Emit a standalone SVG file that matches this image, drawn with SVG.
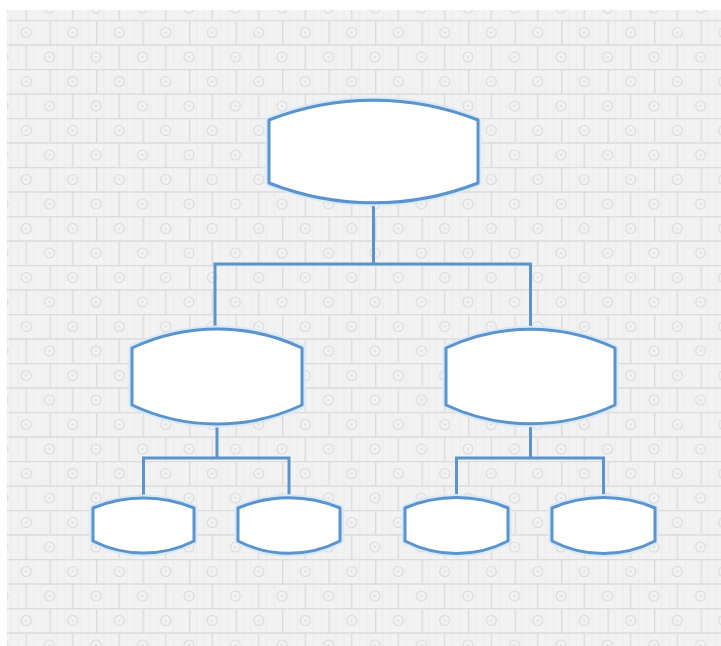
<svg xmlns="http://www.w3.org/2000/svg" width="721" height="646" viewBox="0 0 721 646">
  <defs>
    <pattern id="bg" patternUnits="userSpaceOnUse" x="3" y="20" width="46.5" height="49">
      <rect width="46.5" height="49" fill="#f2f2f2"/>
      <g stroke="#e8e8e8" stroke-width="0.6">
        <line x1="7.75" y1="0" x2="7.75" y2="49"/>
        <line x1="15.5" y1="0" x2="15.5" y2="49"/>
        <line x1="31" y1="0" x2="31" y2="49"/>
        <line x1="38.75" y1="0" x2="38.75" y2="49"/>
      </g>
      <g stroke="#dcdcdc" stroke-width="1.4" fill="none">
        <line x1="0" y1="0.5" x2="46.5" y2="0.5"/>
        <line x1="0" y1="25" x2="46.5" y2="25"/>
        <line x1="0.7" y1="0" x2="0.7" y2="24.5"/>
        <line x1="23.25" y1="24.5" x2="23.25" y2="49"/>
      </g>
      <g stroke="#dadada" stroke-width="1.1" fill="none">
        <circle cx="23.25" cy="12.5" r="5"/>
        <circle cx="0" cy="37" r="5"/>
        <circle cx="46.5" cy="37" r="5"/>
      </g>
      <g fill="#dadada">
        <circle cx="23.25" cy="12.5" r="1"/>
        <circle cx="0" cy="37" r="1"/>
        <circle cx="46.5" cy="37" r="1"/>
      </g>
    </pattern>
    <style>
      .glow { fill: none; stroke: #d8e9f9; stroke-width: 7; stroke-linejoin: round; }
      .node { fill: #ffffff; stroke: #5b93cd; stroke-width: 3; stroke-linejoin: round; }
      .conn { fill: none; stroke: #5b93cd; stroke-width: 3; }
    </style>
  </defs>

  <rect x="0" y="0" width="721" height="646" fill="#ffffff"/>
  <rect x="7" y="10" width="714" height="636" fill="url(#bg)"/>

  <g id="connectors" class="conn">
    <path d="M373.5 202 V264 M215 329 V264 H530.5 V329"/>
    <path d="M217 424 V458 M143.5 498 V458 H289 V498"/>
    <path d="M530.5 424 V458 M456.5 498 V458 H603.5 V498"/>
  </g>

  <g id="node-top">
    <path class="glow" d="M269 120 A285.6 285.6 0 0 1 478 120 L478 183 A285.6 285.6 0 0 1 269 183 Z"/>
    <path class="node" d="M269 120 A285.6 285.6 0 0 1 478 120 L478 183 A285.6 285.6 0 0 1 269 183 Z"/>
  </g>

  <g id="node-mid-left">
    <path class="glow" d="M132 348 A199.6 199.6 0 0 1 302 348 L302 405 A199.6 199.6 0 0 1 132 405 Z"/>
    <path class="node" d="M132 348 A199.6 199.6 0 0 1 302 348 L302 405 A199.6 199.6 0 0 1 132 405 Z"/>
  </g>

  <g id="node-mid-right">
    <path class="glow" d="M446 348 A199.6 199.6 0 0 1 615 348 L615 405 A199.6 199.6 0 0 1 446 405 Z"/>
    <path class="node" d="M446 348 A199.6 199.6 0 0 1 615 348 L615 405 A199.6 199.6 0 0 1 446 405 Z"/>
  </g>

  <g id="node-b1">
    <path class="glow" d="M93 508 A132.5 132.5 0 0 1 194 508 L194 541 A112 112 0 0 1 93 541 Z"/>
    <path class="node" d="M93 508 A132.5 132.5 0 0 1 194 508 L194 541 A112 112 0 0 1 93 541 Z"/>
  </g>
  <g id="node-b2">
    <path class="glow" d="M238 508 A132.5 132.5 0 0 1 340 508 L340 541 A112 112 0 0 1 238 541 Z"/>
    <path class="node" d="M238 508 A132.5 132.5 0 0 1 340 508 L340 541 A112 112 0 0 1 238 541 Z"/>
  </g>
  <g id="node-b3">
    <path class="glow" d="M405 508 A132.5 132.5 0 0 1 508 508 L508 541 A112 112 0 0 1 405 541 Z"/>
    <path class="node" d="M405 508 A132.5 132.5 0 0 1 508 508 L508 541 A112 112 0 0 1 405 541 Z"/>
  </g>
  <g id="node-b4">
    <path class="glow" d="M552 508 A132.5 132.5 0 0 1 655 508 L655 541 A112 112 0 0 1 552 541 Z"/>
    <path class="node" d="M552 508 A132.5 132.5 0 0 1 655 508 L655 541 A112 112 0 0 1 552 541 Z"/>
  </g>
</svg>
